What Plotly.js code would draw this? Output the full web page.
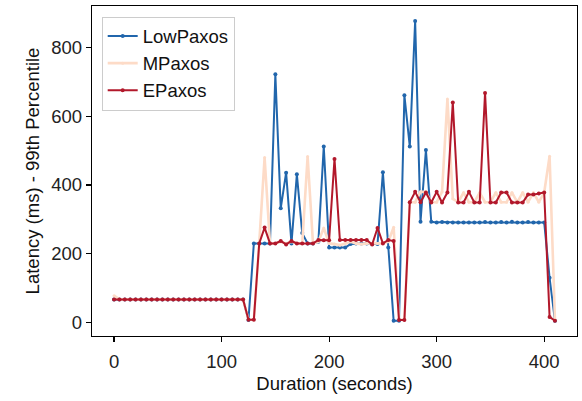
<!DOCTYPE html>
<html>
<head>
<meta charset="utf-8">
<script src="https://cdn.plot.ly/plotly-3.0.1.min.js"></script>
<style>html,body{margin:0;padding:0;background:#fff;}#chart{width:582px;height:401px;}</style>
</head>
<body>
<div id="chart"></div>
<script>
const durations = [0,5,10,15,20,25,30,35,40,45,50,55,60,65,70,75,80,85,90,95,100,105,110,115,120,
125,130,135,140,145,150,155,160,165,170,175,180,185,190,195,200,205,210,215,220,225,230,235,240,245,
250,255,260,265,270,275,280,285,290,295,300,305,310,315,320,325,330,335,340,345,350,355,360,365,370,
375,380,385,390,395,400,405,410];

const lowPaxos = [67,67,67,67,67,67,67,67,67,67,67,67,67,67,67,67,67,67,67,67,67,67,67,67,67,
7,230,230,230,230,722,332,436,230,431,260,230,230,235,512,218,218,218,218,228,230,230,230,228,228,
437,218,5,5,661,512,877,293,502,293,291,292,291,291,291,291,291,291,291,292,291,291,292,291,293,
291,291,292,291,291,291,130,5];

const mPaxos = [78,67,67,67,67,67,67,67,67,67,67,67,67,67,67,67,67,67,67,67,67,67,67,67,67,
8,8,230,480,230,230,235,230,235,230,230,483,230,235,275,230,228,225,230,235,230,228,230,230,230,
230,235,277,8,8,350,350,380,380,350,350,380,650,360,350,378,350,350,378,350,350,378,350,350,378,
350,378,350,378,350,378,484,8];

const ePaxos = [67,67,67,67,67,67,67,67,67,67,67,67,67,67,67,67,67,67,67,67,67,67,67,67,67,
8,8,230,276,230,230,237,227,237,230,230,230,230,240,239,239,476,240,240,240,240,240,240,227,275,
230,240,237,7,7,350,380,350,378,349,380,349,378,640,349,349,380,349,349,668,349,349,378,378,349,
349,349,372,372,375,378,16,5];

const seriesNames = ['LowPaxos','MPaxos','EPaxos'];
const xTicks = [0,100,200,300,400];
const yTicks = [0,200,400,600,800];

const font = 'Liberation Sans, Arial, sans-serif';
const traces = [
  {x: durations, y: lowPaxos, name: seriesNames[0], type:'scatter', mode:'lines+markers',
   line:{color:'#2166ac', width:2}, marker:{color:'#2166ac', size:4}, legendgroup:'a'},
  {x: durations, y: mPaxos, name: seriesNames[1], type:'scatter', mode:'lines+markers',
   line:{color:'#fddbc7', width:2.6}, marker:{color:'#fddbc7', size:3}, legendgroup:'b'},
  {x: durations, y: ePaxos, name: seriesNames[2], type:'scatter', mode:'lines+markers',
   line:{color:'#b2182b', width:2}, marker:{color:'#b2182b', size:4}, legendgroup:'c'}
];

const axisCommon = {
  showgrid:false, zeroline:false, showline:true, mirror:true, linecolor:'#000', linewidth:1.3,
  ticks:'outside', ticklen:5, tickwidth:1.2, tickcolor:'#000',
  tickfont:{family:font, size:18.5, color:'#222'}
};

const layout = {
  width:582, height:401,
  margin:{l:92, r:5, t:6, b:65},
  paper_bgcolor:'#fff', plot_bgcolor:'#fff',
  showlegend:true,
  legend:{x:0.02, y:0.968, xanchor:'left', yanchor:'top', bgcolor:'rgba(255,255,255,0.9)',
    bordercolor:'#cccccc', borderwidth:1, font:{family:font, size:18.5, color:'#111'},
    tracegroupgap:0, itemwidth:30},
  xaxis: Object.assign({}, axisCommon, {range:[-20.5, 430.5], tickvals:xTicks, ticklabelstandoff:3,
    title:{text:'Duration (seconds)', font:{family:font, size:18.5, color:'#111'}, standoff:6}}),
  yaxis: Object.assign({}, axisCommon, {range:[-39.5, 921], tickvals:yTicks,
    title:{text:'Latency (ms) - 99th Percentile', font:{family:font, size:18.5, color:'#111'}, standoff:6}})
};

Plotly.newPlot('chart', traces, layout, {displayModeBar:false, staticPlot:true});
</script>
</body>
</html>
